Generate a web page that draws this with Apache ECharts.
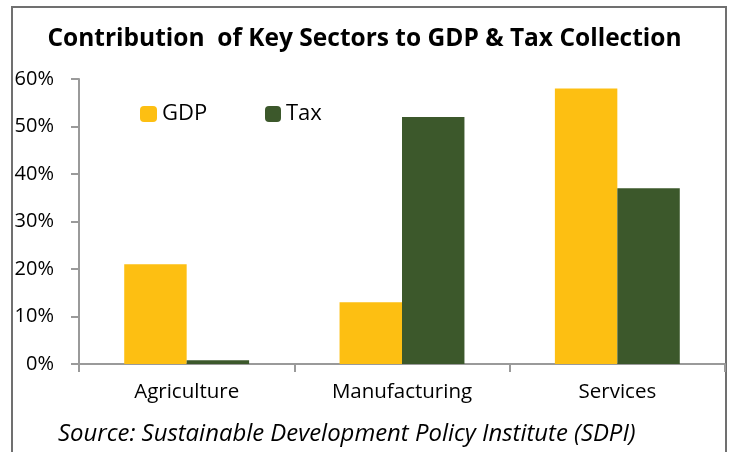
<!DOCTYPE html>
<html>
<head>
<meta charset="utf-8">
<script src="https://cdn.jsdelivr.net/npm/echarts@6/dist/echarts.min.js"></script>
<style>
  html, body { margin: 0; padding: 0; background: #fff; }
  #chart { width: 729px; height: 452px; }
</style>
</head>
<body>
<div id="chart"></div>
<script>
// Sector shares (%) of GDP and of tax collection
const sectors = ['Agriculture', 'Manufacturing', 'Services'];
const gdpShare = [21, 13, 58];
const taxShare = [0.8, 52, 37];
const yTicks = { min: 0, max: 60, interval: 10 };

const FONT = 'Open Sans';
const GDP_COLOR = '#FDBF12';
const TAX_COLOR = '#3C582B';
const AXIS_COLOR = '#9a9a9a';

const chart = echarts.init(document.getElementById('chart'));
chart.setOption({
  backgroundColor: '#fff',
  animation: false,
  textStyle: { fontFamily: FONT },
  title: {
    text: 'Contribution  of Key Sectors to GDP & Tax Collection',
    left: 'center',
    top: 22,
    textStyle: { fontFamily: FONT, fontWeight: 'bold', fontSize: 24.5, color: '#000' }
  },
  graphic: [
    {
      type: 'rect',
      shape: { x: 12, y: 7, width: 714, height: 470 },
      style: { fill: 'none', stroke: '#707070', lineWidth: 2 },
      silent: true
    },
    {
      type: 'text',
      left: 58,
      top: 422,
      style: {
        text: 'Source: Sustainable Development Policy Institute (SDPI)',
        font: 'italic 23.9px "Open Sans"',
        fill: '#000'
      }
    }
  ],
  legend: [
    {
      data: ['GDP'],
      left: 135, top: 98,
      itemWidth: 17, itemHeight: 16, itemGap: 5,
      textStyle: { fontFamily: FONT, fontSize: 22, color: '#000' }
    },
    {
      data: ['Tax'],
      left: 260, top: 98,
      itemWidth: 16, itemHeight: 16, itemGap: 5,
      textStyle: { fontFamily: FONT, fontSize: 22, color: '#000' }
    }
  ],
  grid: { left: 79, right: 4, top: 79, bottom: 88, containLabel: false },
  xAxis: {
    type: 'category',
    data: sectors,
    axisLine: { lineStyle: { color: AXIS_COLOR, width: 2 } },
    axisTick: { show: true, length: 8, lineStyle: { color: AXIS_COLOR, width: 2 } },
    axisLabel: { color: '#000', fontSize: 20.5, fontFamily: FONT, margin: 18 }
  },
  yAxis: {
    type: 'value',
    min: yTicks.min, max: yTicks.max, interval: yTicks.interval,
    axisLine: { show: true, lineStyle: { color: AXIS_COLOR, width: 2 } },
    axisTick: { show: true, length: 8, lineStyle: { color: AXIS_COLOR, width: 2 } },
    splitLine: { show: false },
    axisLabel: { color: '#000', fontSize: 20, fontFamily: FONT, margin: 25, formatter: '{value}%' }
  },
  series: [
    {
      name: 'GDP', type: 'bar', data: gdpShare,
      itemStyle: { color: GDP_COLOR },
      barGap: '0%', barCategoryGap: '42%'
    },
    {
      name: 'Tax', type: 'bar', data: taxShare,
      itemStyle: { color: TAX_COLOR },
      barGap: '0%', barCategoryGap: '42%'
    }
  ]
});
</script>
</body>
</html>
